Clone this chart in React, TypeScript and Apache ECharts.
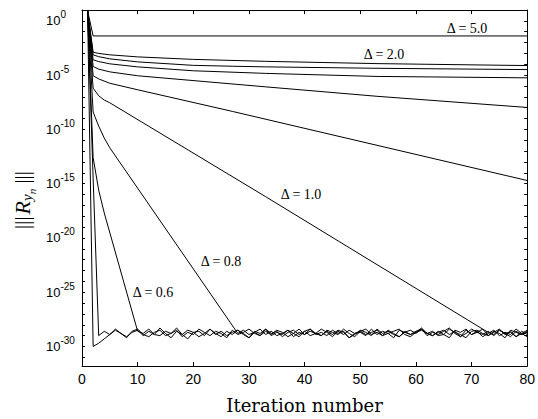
import React, { useEffect, useRef } from "react";
import * as echarts from "echarts";

// y values are log10 of the residual norm
const yLabelExps = [0, -5, -10, -15, -20, -25, -30];
const yTickExps = [1, 0, -1, -2, -3, -4, -5, -6, -7, -8, -9, -10, -11, -12, -13, -14, -15, -16, -17, -18, -19, -20, -21, -22, -23, -24, -25, -26, -27, -28, -29, -30, -31];

// Δ = 5.0
const iterD50 = [1, 2, 80];
const logD50 = [0.95, -1.39, -1.39];
// Δ = 2.0
const iterD20 = [1, 2, 3, 5, 10, 20, 33, 53, 80];
const logD20 = [0.95, -2.89, -3.0, -3.13, -3.32, -3.55, -3.73, -3.94, -4.12];
// Δ = 1.8
const iterD18 = [1, 2, 3, 5, 10, 20, 27, 33, 53, 80];
const logD18 = [0.95, -3.13, -3.3, -3.5, -3.78, -4.1, -4.18, -4.24, -4.37, -4.49];
// Δ = 1.6
const iterD16 = [1, 2, 3, 5, 10, 20, 33, 53, 80];
const logD16 = [0.95, -3.59, -3.75, -3.96, -4.24, -4.6, -4.84, -5.12, -5.25];
// Δ = 1.4
const iterD14 = [1, 2, 3, 5, 10, 33, 53, 80];
const logD14 = [0.95, -4.21, -4.45, -4.7, -5.06, -6.08, -6.95, -7.98];
// Δ = 1.2
const iterD12 = [1, 2, 3, 5, 10, 27, 80];
const logD12 = [0.95, -5.06, -5.35, -5.75, -6.35, -8.34, -14.71];
// Δ = 1.0
const iterD10 = [1, 2, 3, 4, 5, 33, 72];
const logD10 = [0.95, -6.2, -6.9, -7.3, -7.55, -16.2, -28.4];
const noiseStartD10 = 73;
const noiseD10 = [-28.7, -28.9, -28.5, -28.8, -29.1, -28.6, -28.9, -28.7];
// Δ = 0.8
const iterD08 = [1, 2, 3, 4, 5, 28];
const logD08 = [0.95, -8.4, -9.7, -10.8, -11.7, -28.8];
const noiseStartD08 = 29;
const noiseD08 = [-28.5, -28.9, -28.7, -29.0, -28.4, -28.8, -28.6, -29.1, -28.7, -28.5, -28.9, -28.6, -29.0, -28.8, -28.4, -28.7, -29.1, -28.6, -28.9, -28.5, -28.8, -28.7, -29.0, -28.4, -28.9, -28.6, -28.8, -29.2, -28.5, -28.7, -28.9, -28.6, -28.4, -28.8, -29.0, -28.7, -28.5, -28.9, -28.6, -29.1, -28.8, -28.4, -28.7, -28.9, -28.6, -29.0, -28.5, -28.8, -28.7, -29.1, -28.6, -28.9];
// Δ = 0.6
const iterD06 = [1, 2, 3, 4, 10];
const logD06 = [0.95, -12.6, -15.6, -17.7, -28.6];
const noiseStartD06 = 11;
const noiseD06 = [-28.8, -28.4, -28.9, -29.0, -28.6, -28.8, -28.5, -29.1, -28.7, -28.9, -28.4, -28.7, -29.0, -28.6, -28.8, -29.2, -28.5, -28.9, -28.7, -28.4, -28.8, -29.0, -28.6, -28.9, -28.5, -28.7, -29.1, -28.8, -28.4, -28.9, -28.6, -28.8, -29.0, -28.5, -28.7, -28.9, -28.4, -28.8, -29.1, -28.6, -28.9, -28.7, -28.5, -29.0, -28.8, -28.6, -28.4, -28.9, -29.1, -28.7, -28.5, -28.8, -28.6, -29.0, -28.9, -28.4, -28.7, -28.9, -29.2, -28.6, -28.5, -28.8, -29.0, -28.7, -28.4, -28.9, -28.6, -29.1, -28.8, -28.5];
// Δ = 0.4
const iterD04 = [1, 2, 3];
const logD04 = [0.95, -14.5, -29.0];
const noiseStartD04 = 4;
const noiseD04 = [-28.6, -28.9, -28.4, -28.8, -29.1, -28.7, -28.5, -29.0, -28.6, -28.9, -28.3, -28.8, -29.2, -28.6, -28.9, -28.5, -28.7, -29.1, -28.8, -28.4, -28.9, -28.6, -29.0, -28.7, -28.5, -28.9, -29.2, -28.6, -28.8, -28.4, -29.0, -28.7, -28.9, -28.5, -28.8, -29.1, -28.6, -28.4, -28.9, -28.7, -29.0, -28.5, -28.8, -28.6, -29.2, -28.9, -28.5, -28.7, -29.0, -28.4, -28.8, -28.6, -28.9, -29.1, -28.7, -28.5, -28.8, -28.4, -29.0, -28.7, -28.9, -28.6, -28.3, -28.8, -29.1, -28.5, -28.9, -28.7, -28.4, -29.0, -28.6, -28.8, -29.2, -28.5, -28.7, -28.9, -28.6];
// Δ = 0.2
const iterD02 = [1, 2, 3, 4];
const logD02 = [0.95, -30.0, -29.7, -29.3];
const noiseStartD02 = 5;
const noiseD02 = [-28.9, -28.5, -28.8, -29.2, -28.6, -28.4, -28.9, -29.1, -28.7, -28.5, -29.0, -28.8, -28.3, -28.9, -29.3, -28.7, -28.6, -29.0, -28.4, -28.8, -29.1, -28.6, -28.9, -28.5, -28.8, -29.2, -28.7, -28.4, -28.9, -28.6, -29.0, -28.8, -28.5, -29.1, -28.7, -28.9, -28.4, -28.8, -29.0, -28.6, -28.9, -28.5, -28.7, -29.2, -28.8, -28.6, -28.4, -28.9, -28.7, -29.0, -28.5, -28.8, -29.1, -28.6, -28.9, -28.7, -28.3, -28.8, -29.0, -28.6, -28.9, -29.2, -28.5, -28.7, -28.4, -28.9, -28.6, -29.1, -28.8, -28.5, -29.0, -28.7, -28.9, -28.4, -28.8, -29.1];

const labelTexts = ["\u0394 = 5.0", "\u0394 = 2.0", "\u0394 = 1.0", "\u0394 = 0.8", "\u0394 = 0.6"];

function build(iters: number[], logs: number[], noiseStart?: number, noise?: number[]) {
  const pts: number[][] = iters.map((x, i) => [x, logs[i]]);
  if (noise && noiseStart != null) noise.forEach((v, i) => pts.push([noiseStart + i, v]));
  return pts;
}

const lines = [
  { name: "\u0394 = 5.0", data: build(iterD50, logD50) },
  { name: "\u0394 = 2.0", data: build(iterD20, logD20) },
  { name: "\u0394 = 1.8", data: build(iterD18, logD18) },
  { name: "\u0394 = 1.6", data: build(iterD16, logD16) },
  { name: "\u0394 = 1.4", data: build(iterD14, logD14) },
  { name: "\u0394 = 1.2", data: build(iterD12, logD12) },
  { name: "\u0394 = 1.0", data: build(iterD10, logD10, noiseStartD10, noiseD10) },
  { name: "\u0394 = 0.8", data: build(iterD08, logD08, noiseStartD08, noiseD08) },
  { name: "\u0394 = 0.6", data: build(iterD06, logD06, noiseStartD06, noiseD06) },
  { name: "\u0394 = 0.4", data: build(iterD04, logD04, noiseStartD04, noiseD04) },
  { name: "\u0394 = 0.2", data: build(iterD02, logD02, noiseStartD02, noiseD02) },
];

export default function App() {
  const ref = useRef<HTMLDivElement>(null);
  useEffect(() => {
    if (!ref.current) return;
    const chart = echarts.init(ref.current, undefined, { renderer: "svg" });
    const sans = "Liberation Sans";
    const serif = "Liberation Serif";
    const axisCommon = {
      axisLine: { show: true, onZero: false, lineStyle: { color: "#000", width: 1 } },
      splitLine: { show: false },
    };
    const yRich = {
      b: { fontSize: 13, fontFamily: sans, color: "#000" },
      s: { fontSize: 10, fontFamily: sans, color: "#000", padding: [0, 0, 12, 0] },
    };
    const labelPos = [
      [467, 28],
      [384, 54],
      [301, 194],
      [221, 261],
      [153, 292],
    ];
    chart.setOption({
      animation: false,
      backgroundColor: "#fff",
      grid: { left: 82, right: 8, top: 10, bottom: 52, containLabel: false },
      xAxis: [
        {
          type: "value",
          min: 0,
          max: 80,
          interval: 10,
          position: "bottom",
          ...axisCommon,
          axisTick: { show: true, inside: true, length: 4, lineStyle: { color: "#000" } },
          axisLabel: { color: "#000", fontFamily: sans, fontSize: 14, margin: 6 },
          name: "Iteration number",
          nameLocation: "middle",
          nameGap: 30,
          nameTextStyle: { color: "#000", fontFamily: "DejaVu Serif", fontSize: 18 },
        },
        {
          type: "value",
          min: 0,
          max: 80,
          interval: 10,
          position: "top",
          ...axisCommon,
          axisTick: { show: true, inside: true, length: 4, lineStyle: { color: "#000" } },
          axisLabel: { show: false },
        },
      ],
      yAxis: [
        {
          type: "value",
          min: -31.8,
          max: 1,
          position: "left",
          ...axisCommon,
          axisTick: { show: true, inside: true, length: 3, customValues: yTickExps, lineStyle: { color: "#000" } },
          axisLabel: {
            customValues: yLabelExps,
            align: "left",
            margin: 36,
            formatter: (v: number) => `{b|10}{s|${v === 0 ? "0" : String(v)}}`,
            rich: yRich,
          },
        },
        {
          type: "value",
          min: -31.8,
          max: 1,
          position: "right",
          ...axisCommon,
          axisTick: { show: true, inside: true, length: 3, customValues: yTickExps, lineStyle: { color: "#000" } },
          axisLabel: { show: false },
        },
      ],
      series: lines.map((l) => ({
        type: "line",
        name: l.name,
        data: l.data,
        xAxisIndex: 0,
        yAxisIndex: 0,
        showSymbol: false,
        symbol: "none",
        silent: true,
        lineStyle: { color: "#000", width: 1 },
      })),
      graphic: [
        ...labelTexts.map((t, i) => ({
          type: "text",
          x: labelPos[i][0],
          y: labelPos[i][1],
          silent: true,
          style: {
            text: t,
            font: `14px "${serif}"`,
            fill: "#000",
            align: "center",
            verticalAlign: "middle",
          },
        })),
        {
          type: "text",
          x: 22,
          y: 200,
          rotation: Math.PI / 2,
          silent: true,
          style: {
            text: "{bar||||}{r|R}{s|y}{n|n}{bar| |||}",
            align: "center",
            verticalAlign: "middle",
            fill: "#000",
            rich: {
              bar: { fontSize: 21, fontFamily: serif, fill: "#000", color: "#000" },
              r: { fontSize: 22, fontFamily: serif, fontStyle: "italic", color: "#000", padding: [0, 0, 0, 2] },
              s: { fontSize: 15, fontFamily: serif, fontStyle: "italic", color: "#000", padding: [10, 0, 0, 0] },
              n: { fontSize: 11, fontFamily: serif, fontStyle: "italic", color: "#000", padding: [20, 0, 0, 0] },
            },
          },
        },
      ],
    });
    return () => chart.dispose();
  }, []);
  return <div ref={ref} style={{ position: "absolute", left: 0, top: 0, width: 538, height: 419 }} />;
}
